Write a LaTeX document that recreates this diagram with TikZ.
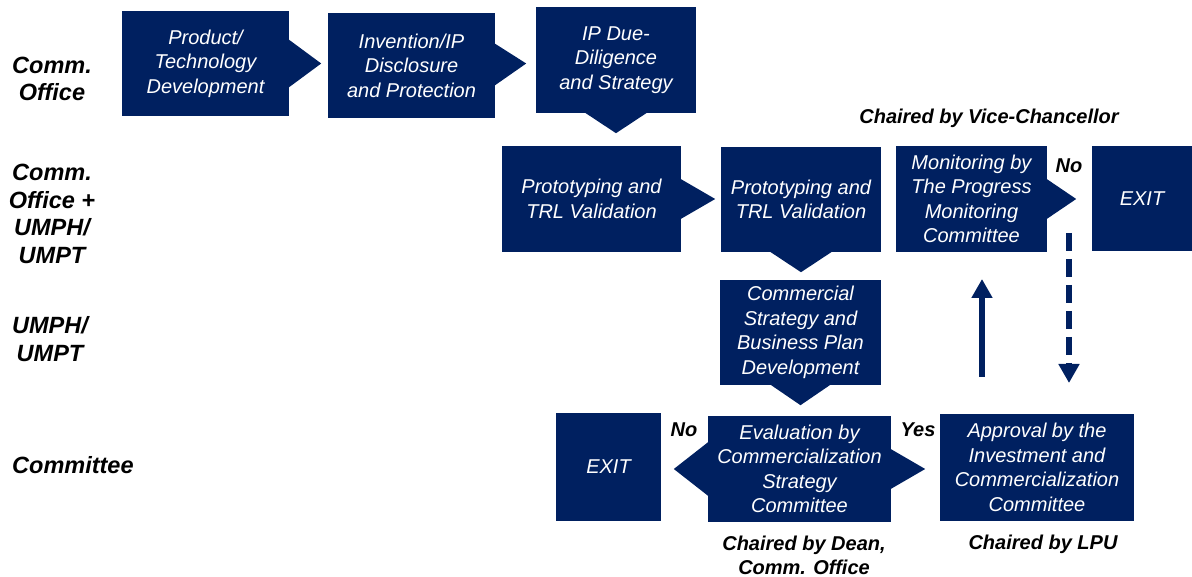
\documentclass[tikz,border=0pt]{standalone}
\usepackage{fontspec}
\setmainfont{Liberation Sans}
\usetikzlibrary{arrows.meta,calc}
\definecolor{navy}{RGB}{0,32,96}
\begin{document}
\begin{tikzpicture}[x=1pt,y=-1pt,
  box/.style={fill=navy, text=white, inner sep=0pt, align=center,
    font=\fontsize{20}{24.5}\selectfont\itshape},
  lbl/.style={inner sep=0pt, align=center,
    font=\fontsize{20}{24}\selectfont\bfseries\itshape},
  lane/.style={inner sep=0pt, align=center,
    font=\fontsize{23.5}{27.6}\selectfont\bfseries\itshape},
  tipfill/.style={fill=navy},
  flow/.style={draw=navy, line width=6pt, -{Triangle[width=20pt,length=19pt]}}
]
\useasboundingbox (0,0) rectangle (1192,577);

% lane labels
\node[lane] (l1) at (52,79) {Comm.\\Office};
\node[lane] (l2) at (52,214) {Comm.\\Office +\\UMPH/\\UMPT};
\node[lane] (l3) at (50,339) {UMPH/\\UMPT};
\node[lane, anchor=west] (l4) at (12,465) {Committee};

% boxes
\node[box, minimum width=167, minimum height=105] (b1) at (205.5,63.5) {Product/\\Technology\\Development};
\node[box, minimum width=167, minimum height=105] (b2) at (411.5,65.5) {Invention/IP\\Disclosure\\and Protection};
\node[box, minimum width=160, minimum height=106] (b3) at (616,60) {IP Due-\\Diligence\\and Strategy};
\node[box, minimum width=179, minimum height=106] (b4) at (591.5,199) {Prototyping and\\TRL Validation};
\node[box, minimum width=160, minimum height=105] (b5) at (801,199.5) {Prototyping and\\TRL Validation};
\node[box, minimum width=151, minimum height=106] (b6) at (971.5,199) {Monitoring by\\The Progress\\Monitoring\\Committee};
\node[box, minimum width=100, minimum height=105] (b7) at (1142,198.5) {EXIT};
\node[box, minimum width=161, minimum height=105] (b8) at (800.5,332.5) {Commercial\\Strategy and\\Business Plan\\Development};
\node[box, minimum width=183, minimum height=106] (b9) at (799.5,469) {Evaluation by\\Commercialization\\Strategy\\Committee};
\node[box, minimum width=105, minimum height=108] (b10) at (608.5,467) {EXIT};
\node[box, minimum width=194, minimum height=107] (b11) at (1037,467.5) {Approval by the\\Investment and\\Commercialization\\Committee};

% arrow points of the boxes
\fill[tipfill] ($(b1.east)+(-0.5,-24)$) -- ($(b1.east)+(32,0)$) -- ($(b1.east)+(-0.5,24)$) -- cycle;
\fill[tipfill] ($(b2.east)+(-0.5,-22)$) -- ($(b2.east)+(31,-2)$) -- ($(b2.east)+(-0.5,20)$) -- cycle;
\fill[tipfill] ($(b3.south)+(-31,-0.5)$) -- ($(b3.south)+(0,20)$) -- ($(b3.south)+(31,-0.5)$) -- cycle;
\fill[tipfill] ($(b4.east)+(-0.5,-20)$) -- ($(b4.east)+(34,0)$) -- ($(b4.east)+(-0.5,20)$) -- cycle;
\fill[tipfill] ($(b5.south)+(-31,-0.5)$) -- ($(b5.south)+(0,20)$) -- ($(b5.south)+(31,-0.5)$) -- cycle;
\fill[tipfill] ($(b6.east)+(-0.5,-20)$) -- ($(b6.east)+(29,0)$) -- ($(b6.east)+(-0.5,20)$) -- cycle;
\fill[tipfill] ($(b8.south)+(-30,-0.5)$) -- ($(b8.south)+(0,20)$) -- ($(b8.south)+(30,-0.5)$) -- cycle;
\fill[tipfill] ($(b9.west)+(0.5,-27)$) -- ($(b9.west)+(-34,0)$) -- ($(b9.west)+(0.5,27)$) -- cycle;
\fill[tipfill] ($(b9.east)+(-0.5,-20)$) -- ($(b9.east)+(34,0)$) -- ($(b9.east)+(-0.5,20)$) -- cycle;

% vertical arrows
\coordinate (upS) at (982,377);
\coordinate (upE) at (982,279);
\coordinate (dnS) at (1069,233);
\coordinate (dnE) at (1069,383);
\draw[flow] (upS) -- (upE);
\draw[flow, dash pattern=on 18pt off 8pt] (dnS) -- (dnE);

% labels
\node[lbl] (c1) at (989,118) {Chaired by Vice-Chancellor};
\node[lbl] (n1) at (1069,166) {No};
\node[lbl] (n2) at (684,430) {No};
\node[lbl] (y1) at (918,430) {Yes};
\node[lbl] (c2) at (804,555) {Chaired by Dean,\\Comm. Office};
\node[lbl] (c3) at (1043,544) {Chaired by LPU};
\end{tikzpicture}
\end{document}
